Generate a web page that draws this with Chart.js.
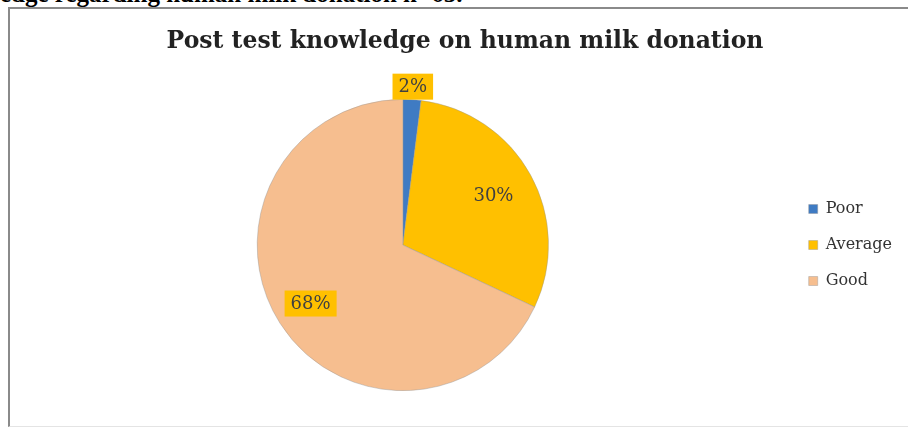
<!DOCTYPE html>
<html>
<head>
<meta charset="utf-8">
<script src="https://cdn.jsdelivr.net/npm/chart.js@4/dist/chart.umd.min.js"></script>
<style>
  html, body { margin: 0; padding: 0; background: #fff; }
  #wrap { position: relative; width: 908px; height: 427px; overflow: hidden; background: #fff; }
  #cap { position: absolute; left: 0; top: -19.5px; font: bold 25px "Liberation Serif", serif; line-height: 25px; color: #000; white-space: nowrap; }
  #frame { position: absolute; left: 8px; top: 7px; width: 920px; height: 417px; border-left: 2px solid #8a8a8a; border-top: 2px solid #8a8a8a; border-bottom: 1px solid #e4e4e4; }
  canvas { position: absolute; left: 0; top: 0; }
</style>
</head>
<body>
<div id="wrap">
  <div id="cap">edge regarding human milk donation n=65.</div>
  <div id="frame"></div>
  <canvas id="c" width="908" height="427"></canvas>
</div>
<script>
const titleText = "Post test knowledge on human milk donation";
const categories = ["Poor", "Average", "Good"];
const percentValues = [2, 30, 68];
const sliceColors = ["#3F7BC3", "#FFC000", "#F6BE8F"];

const labelPlugin = {
  id: 'pctLabels',
  afterDatasetsDraw(chart) {
    const ctx = chart.ctx;
    const meta = chart.getDatasetMeta(0);
    ctx.save();
    ctx.font = '18px "DejaVu Serif", serif';
    ctx.textAlign = 'center';
    ctx.textBaseline = 'middle';
    meta.data.forEach((arc, i) => {
      const p = arc.getProps(['x','y','startAngle','endAngle','outerRadius'], true);
      const mid = (p.startAngle + p.endAngle) / 2;
      const r = i === 0 ? p.outerRadius + 13 : p.outerRadius * (i === 1 ? 0.71 : 0.75);
      const x = p.x + Math.cos(mid) * r;
      const y = p.y + Math.sin(mid) * r;
      const txt = percentValues[i] + '%';
      const w = ctx.measureText(txt).width;
      ctx.fillStyle = '#FFC000';
      ctx.fillRect(x - w/2 - 6, y - 13, w + 12, 26);
      ctx.fillStyle = '#404040';
      ctx.fillText(txt, x, y + 1);
    });
    ctx.restore();
  }
};

const titlePlugin = {
  id: 'customTitle',
  afterDraw(chart) {
    const ctx = chart.ctx;
    ctx.save();
    ctx.font = 'bold 23.5px "DejaVu Serif", serif';
    ctx.fillStyle = '#222';
    ctx.textAlign = 'center';
    ctx.textBaseline = 'middle';
    ctx.fillText(titleText, 465, 42);
    ctx.restore();
  }
};

new Chart(document.getElementById('c'), {
  type: 'pie',
  data: {
    labels: categories,
    datasets: [{
      data: percentValues,
      backgroundColor: sliceColors,
      borderColor: 'rgba(150,150,150,0.6)',
      borderWidth: 0.7
    }]
  },
  options: {
    responsive: false,
    animation: false,
    layout: { padding: { left: 17, top: 99, bottom: 36, right: 6 } },
    plugins: {
      title: { display: false },
      tooltip: { enabled: false },
      legend: {
        display: true,
        position: 'right',
        align: 'center',
        labels: {
          boxWidth: 9,
          boxHeight: 9,
          padding: 20,
          color: '#333',
          font: { family: '"DejaVu Serif", serif', size: 16 }
        }
      }
    }
  },
  plugins: [labelPlugin, titlePlugin]
});
</script>
</body>
</html>
